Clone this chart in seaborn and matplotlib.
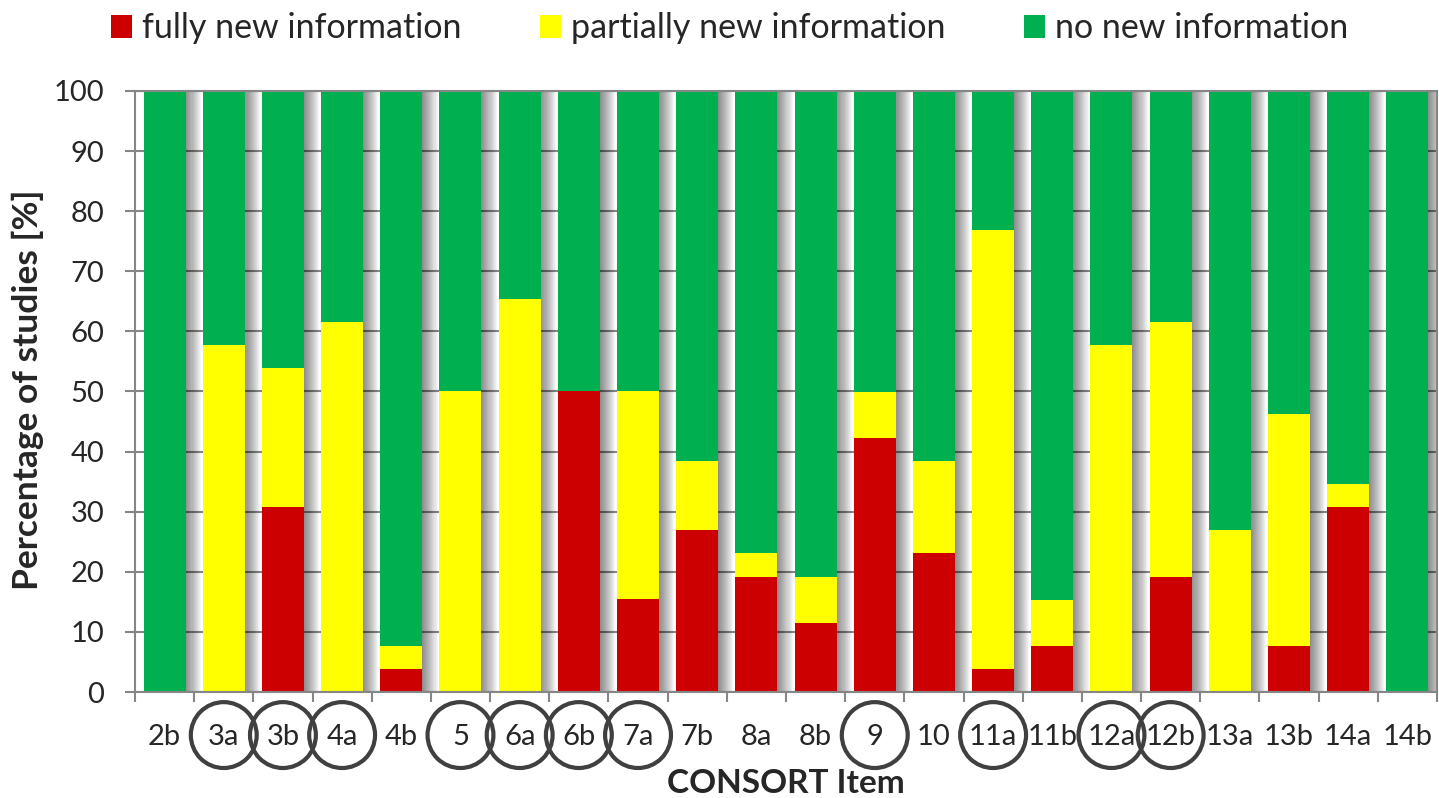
import matplotlib
matplotlib.use("Agg")
import matplotlib.pyplot as plt
import matplotlib.patheffects as pe
from matplotlib.patches import Patch
from matplotlib.ticker import FixedLocator
import numpy as np
import pandas as pd
import seaborn as sns

# CONSORT items and share of studies (%) per information category
items = ["2b", "3a", "3b", "4a", "4b", "5", "6a", "6b", "7a", "7b", "8a",
         "8b", "9", "10", "11a", "11b", "12a", "12b", "13a", "13b", "14a", "14b"]
fully_new = [0, 0, 30.8, 0, 3.85, 0, 0, 50.0, 15.4, 26.9, 19.2,
             11.5, 42.3, 23.1, 3.85, 7.69, 0, 19.2, 0, 7.69, 30.8, 0]
partially_new = [0, 57.7, 23.1, 61.5, 3.85, 50.0, 65.4, 0, 34.6, 11.5, 3.85,
                 7.69, 7.69, 15.4, 73.1, 7.69, 57.7, 42.3, 26.9, 38.5, 3.85, 0]
# items highlighted with a circle on the category axis
circled = ["3a", "3b", "4a", "5", "6a", "6b", "7a", "9", "11a", "12a", "12b"]

series_labels = ["fully new information", "partially new information", "no new information"]
colors = ["#CC0000", "#FFFF00", "#00B050"]

df = pd.DataFrame({"item": items, "fully": fully_new, "partial": partially_new})
df["partial_top"] = df["fully"] + df["partial"]
df["none"] = 100.0 - df["partial_top"]
df["none_top"] = df["partial_top"] + df["none"]

sns.set_style("white")
plt.rcParams["font.family"] = ["Lato", "DejaVu Sans"]

fig = plt.figure(figsize=(14.39, 7.98), dpi=100)
ax = fig.add_axes([0.0938, 0.1328, 0.9048, 0.7532])

bar_w = 0.71
# stacked bars drawn as overlapping cumulative heights
sns.barplot(data=df, x="item", y="none_top", color=colors[2], saturation=1,
            width=bar_w, ax=ax, order=items, linewidth=0, zorder=2)
green_bars = list(ax.patches)
sns.barplot(data=df, x="item", y="partial_top", color=colors[1], saturation=1,
            width=bar_w, ax=ax, order=items, linewidth=0, zorder=3)
sns.barplot(data=df, x="item", y="fully", color=colors[0], saturation=1,
            width=bar_w, ax=ax, order=items, linewidth=0, zorder=4)

# soft drop shadow fading out to the right of each column
shadow = [pe.SimplePatchShadow(offset=(o, -0.5), shadow_rgbFace="#000000", alpha=0.036)
          for o in np.arange(11, 0, -0.75)]
for p in green_bars:
    p.set_path_effects(shadow + [pe.Normal()])

ax.set_xlim(-0.5, len(items) - 0.5)
ax.set_ylim(0, 100)
ax.set_yticks(np.arange(0, 101, 10))
ax.yaxis.grid(True, color="#868686", linewidth=1.5, zorder=0)
ax.set_axisbelow(True)

for side in ["left", "bottom", "right", "top"]:
    ax.spines[side].set_color("#868686")
    ax.spines[side].set_linewidth(1.5)
    ax.spines[side].set_zorder(6)

ax.tick_params(axis="y", which="major", length=7, width=1.5, color="#868686",
               labelsize=21, pad=15, left=True)
ax.xaxis.set_minor_locator(FixedLocator(np.arange(-0.5, len(items), 1.0)))
ax.tick_params(axis="x", which="major", length=0, labelsize=21, pad=23)
ax.tick_params(axis="x", which="minor", length=7, width=1.5, color="#868686", bottom=True)

ax.set_xlabel("CONSORT Item", fontsize=24, fontweight="bold", va="center")
ax.xaxis.set_label_coords(0.5, -0.153)
ax.set_ylabel("Percentage of studies [%]", fontsize=25.5, fontweight="bold", va="center")
ax.yaxis.set_label_coords(-0.082, 0.503)

# circles around the highlighted item labels
circ_x = [items.index(c) for c in circled]
ax.scatter(circ_x, [-0.0716] * len(circ_x), s=2250, facecolors="none",
           edgecolors="#404040", linewidths=3.0, transform=ax.get_xaxis_transform(),
           clip_on=False, zorder=10)

handles = [Patch(facecolor=c, edgecolor="none") for c in colors]
fig.legend(handles, series_labels, loc="center left", bbox_to_anchor=(0.0771, 0.9643),
           ncol=3, frameon=False, fontsize=24.5, borderpad=0, borderaxespad=0,
           handlelength=0.62, handleheight=0.62, handletextpad=0.3, columnspacing=2.3)

fig.savefig("out.png", dpi=100)
